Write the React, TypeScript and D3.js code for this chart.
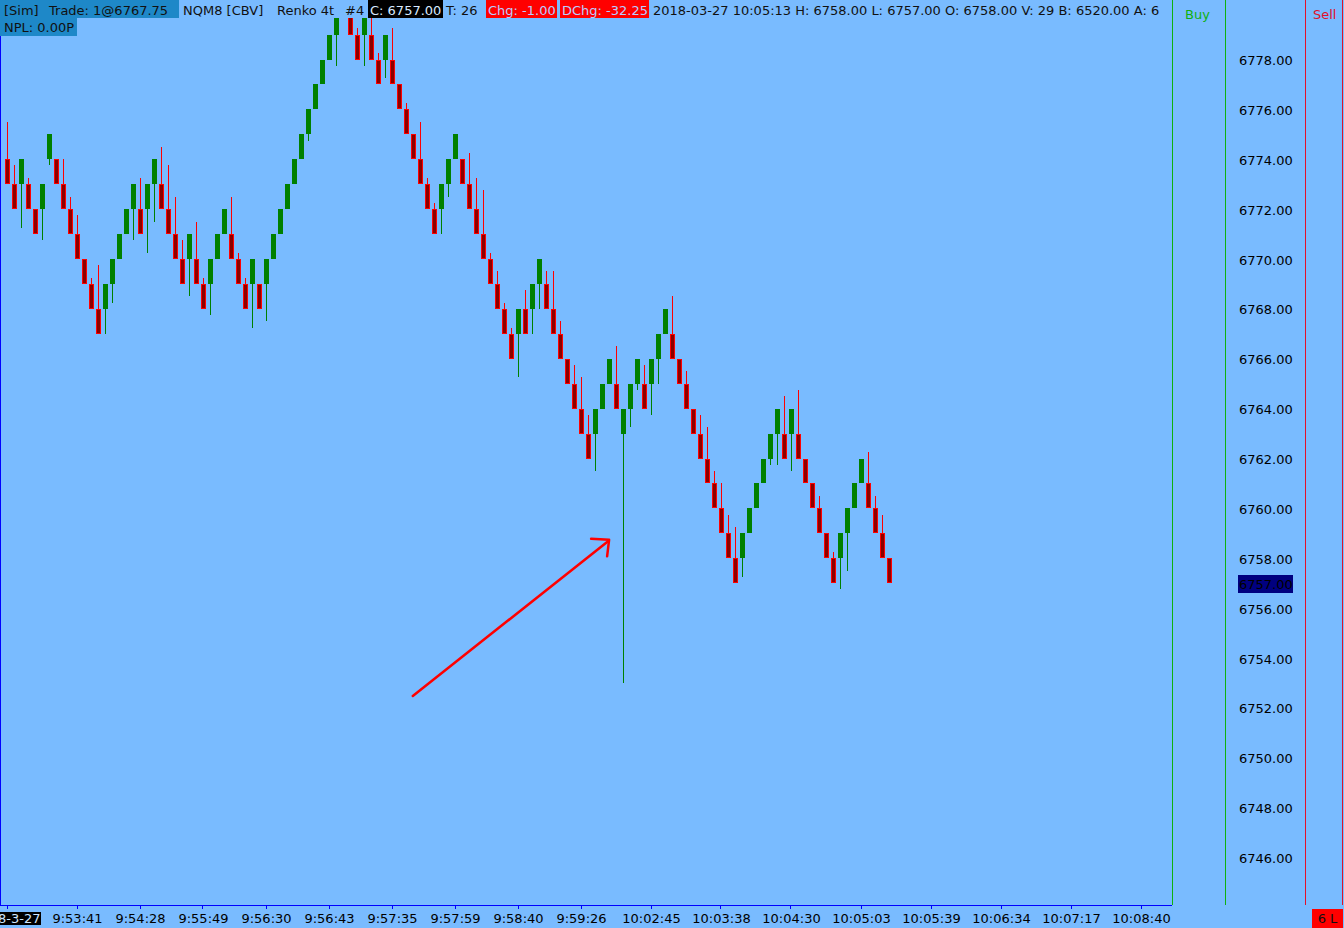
import React, { useEffect } from "react";
import * as d3 from "d3";

// Renko bricks (NQM8, 4 tick)
const opens = [
  6774, 6773, 6773, 6773, 6772, 6772, 6774, 6774, 6773, 6772,
  6771, 6770, 6769, 6768, 6768, 6769, 6770, 6771, 6772, 6772,
  6772, 6773, 6773, 6772, 6771, 6770, 6770, 6770, 6769, 6769,
  6770, 6771, 6771, 6770, 6769, 6769, 6769, 6769, 6770, 6771,
  6772, 6773, 6774, 6775, 6776, 6777, 6778, 6779, 6780, 6780,
  6779, 6779, 6779, 6778, 6778, 6778, 6777, 6776, 6775, 6774,
  6773, 6772, 6772, 6773, 6774, 6774, 6773, 6772, 6771, 6770,
  6769, 6768, 6767, 6767, 6768, 6768, 6769, 6769, 6768, 6767,
  6766, 6765, 6764, 6763, 6763, 6764, 6765, 6765, 6763, 6764,
  6765, 6765, 6765, 6766, 6767, 6767, 6766, 6765, 6764, 6763,
  6762, 6761, 6760, 6759, 6758, 6758, 6759, 6760, 6761, 6762,
  6763, 6763, 6763, 6763, 6762, 6761, 6760, 6759, 6758, 6758,
  6759, 6760, 6761, 6761, 6760, 6759, 6758,
];
const closes = [
  6773, 6772, 6774, 6772, 6771, 6773, 6775, 6773, 6772, 6771,
  6770, 6769, 6768, 6767, 6769, 6770, 6771, 6772, 6773, 6771,
  6773, 6774, 6772, 6771, 6770, 6769, 6771, 6769, 6768, 6770,
  6771, 6772, 6770, 6769, 6768, 6770, 6768, 6770, 6771, 6772,
  6773, 6774, 6775, 6776, 6777, 6778, 6779, 6780, 6781, 6779,
  6778, 6780, 6778, 6777, 6779, 6777, 6776, 6775, 6774, 6773,
  6772, 6771, 6773, 6774, 6775, 6773, 6772, 6771, 6770, 6769,
  6768, 6767, 6766, 6768, 6767, 6769, 6770, 6768, 6767, 6766,
  6765, 6764, 6763, 6762, 6764, 6765, 6766, 6764, 6764, 6765,
  6766, 6764, 6766, 6767, 6768, 6766, 6765, 6764, 6763, 6762,
  6761, 6760, 6759, 6758, 6757, 6759, 6760, 6761, 6762, 6763,
  6764, 6762, 6764, 6762, 6761, 6760, 6759, 6758, 6757, 6759,
  6760, 6761, 6762, 6760, 6759, 6758, 6757,
];
const highs = [
  6775.5, 6773.75, 6774, 6773.25, 6772, 6773, 6775, 6774, 6774, 6772.5,
  6771.75, 6770, 6769.25, 6769.75, 6769, 6770, 6771, 6772, 6773, 6773.25,
  6773, 6774, 6774.5, 6773.75, 6772.5, 6770.75, 6771, 6771.5, 6769.25, 6770,
  6771, 6772, 6772.5, 6770.25, 6769.25, 6770, 6769, 6770, 6771, 6772,
  6773, 6774, 6775, 6776, 6777, 6778, 6779, 6780, 6781, 6780,
  6779.25, 6780, 6780.5, 6778.25, 6779, 6779.25, 6777, 6776.25, 6775, 6775.5,
  6773.25, 6772.25, 6773, 6774, 6775, 6774, 6774.25, 6773.25, 6772.75, 6770.25,
  6769.5, 6768.25, 6767.25, 6768, 6768.75, 6769, 6770, 6769.5, 6769.5, 6767.5,
  6766, 6765.75, 6765.25, 6763.75, 6764, 6765, 6766, 6766.5, 6764, 6765,
  6766, 6765.75, 6766, 6767, 6768, 6768.5, 6766, 6765.5, 6764, 6763.75,
  6763.25, 6761.5, 6761, 6759.75, 6759.25, 6759, 6760, 6761, 6762, 6763,
  6764, 6764.5, 6764, 6764.75, 6762, 6761, 6760.5, 6759, 6758.25, 6759,
  6760, 6761, 6762, 6762.25, 6760.5, 6759.75, 6758,
];
const lows = [
  6773, 6772, 6771.25, 6772, 6771, 6770.75, 6773.75, 6773, 6772, 6771,
  6770, 6769, 6768, 6767, 6767, 6768.25, 6770, 6771, 6770.75, 6771,
  6770.25, 6771.5, 6772, 6771, 6770, 6769, 6768.5, 6769, 6768, 6767.75,
  6770, 6771, 6770, 6769, 6768, 6767.25, 6768, 6767.5, 6770, 6771,
  6772, 6773, 6774, 6774.75, 6776, 6777, 6778, 6777.75, 6780, 6779,
  6778, 6777.75, 6778, 6777, 6777.25, 6777, 6776, 6775, 6774, 6773,
  6772, 6771, 6771, 6772.5, 6774, 6773, 6772, 6771, 6770, 6769,
  6768, 6767, 6766, 6765.25, 6767, 6767, 6768, 6768, 6767, 6766,
  6765, 6764, 6763, 6762, 6761.5, 6764, 6765, 6764, 6753, 6763.25,
  6764.75, 6764, 6763.75, 6765, 6767, 6766, 6765, 6764, 6763, 6762,
  6761, 6760, 6759, 6758, 6757, 6757.25, 6759, 6760, 6761, 6761.75,
  6761.75, 6762, 6761.5, 6762, 6761, 6760, 6759, 6758, 6757, 6756.75,
  6757.5, 6760, 6761, 6760, 6759, 6758, 6757,
];

// axes
const priceTicks = [6746, 6748, 6750, 6752, 6754, 6756, 6758, 6760, 6762, 6764, 6766, 6768, 6770, 6772, 6774, 6776, 6778];
const timeTickIndex = [10, 19, 28, 37, 46, 55, 64, 73, 82, 92, 102, 112, 122, 132, 142, 152, 162];
const timeTickLabels = ["9:53:41", "9:54:28", "9:55:49", "9:56:30", "9:56:43", "9:57:35", "9:57:59", "9:58:40", "9:59:26", "10:02:45", "10:03:38", "10:04:30", "10:05:03", "10:05:39", "10:06:34", "10:07:17", "10:08:40"];
const dateLabel = "2018-3-27";
const lastPrice = 6757;

// hand-drawn arrow annotation (bar index, price)
const arrowFrom = [57.9, 6752.5];
const arrowTo = [85.8, 6758.7];

const BG = "#79BBFF";
const GREEN = "#008000";
const RED = "#FF0000";
const DARKRED = "#8B0000";

export default function App() {
  useEffect(() => {
    document.body.style.margin = "0";
  }, []);

  const x = d3.scaleLinear().domain([0, 166]).range([7.5, 7.5 + 7 * 166]);
  const y = d3.scaleLinear().domain([6746, 6778]).range([858, 60]);
  const py = (v: number) => Math.round(y(v) - 0.5);

  const bars = opens.map((o, i) => ({ i, o, c: closes[i], h: highs[i], l: lows[i] }));

  const ax1 = x(arrowFrom[0]), ay1 = y(arrowFrom[1]);
  const ax2 = x(arrowTo[0]), ay2 = y(arrowTo[1]);

  return (
    <svg
      width={1344}
      height={928}
      style={{ position: "absolute", left: 0, top: 0, display: "block" }}
      fontFamily="DejaVu Sans"
      fontSize={13}
    >
      <defs>
        <clipPath id="plotClip">
          <rect x={1} y={18} width={1171} height={887} />
        </clipPath>
        <clipPath id="hdrClip">
          <rect x={0} y={0} width={1172} height={40} />
        </clipPath>
        <clipPath id="botClip">
          <rect x={0} y={906} width={1172} height={22} />
        </clipPath>
      </defs>
      <rect x={0} y={0} width={1344} height={928} fill={BG} />

      {/* candles */}
      <g clipPath="url(#plotClip)">
        {bars.map((b) => {
          const cx = x(b.i);
          const up = b.c > b.o;
          return (
            <line
              key={"w" + b.i}
              x1={cx}
              x2={cx}
              y1={py(b.h)}
              y2={py(b.l)}
              stroke={up ? GREEN : RED}
              strokeWidth={1}
            />
          );
        })}
        {bars.map((b) => {
          const cx = x(b.i);
          const up = b.c > b.o;
          const top = py(Math.max(b.o, b.c));
          const bot = py(Math.min(b.o, b.c));
          return up ? (
            <rect key={"b" + b.i} x={cx - 2.5} y={top} width={5} height={bot - top} fill={GREEN} />
          ) : (
            <rect
              key={"b" + b.i}
              x={cx - 2}
              y={top + 0.5}
              width={4}
              height={bot - top - 1}
              fill={DARKRED}
              stroke={RED}
              strokeWidth={1}
            />
          );
        })}
        {/* arrow annotation */}
        <g stroke={RED} strokeWidth={2.5} fill="none" strokeLinecap="round" strokeLinejoin="round">
          <line x1={ax1} y1={ay1} x2={ax2} y2={ay2} />
          <polyline points={`${ax2 - 17},${ay2 - 2.5} ${ax2 + 1},${ay2 - 1.5} ${ax2 - 1},${ay2 + 15}`} />
        </g>
      </g>

      {/* frame lines */}
      <line x1={0.5} x2={0.5} y1={0} y2={906} stroke="#0000FF" strokeWidth={1} />
      <line x1={0} x2={1172} y1={905.5} y2={905.5} stroke="#0000FF" strokeWidth={1} />
      {[0, ...timeTickIndex].map((t) => (
        <line key={"t" + t} x1={Math.round(x(t)) - 0.5} x2={Math.round(x(t)) - 0.5} y1={906} y2={909} stroke="#0000FF" />
      ))}
      <line x1={1172.5} x2={1172.5} y1={0} y2={905} stroke="#10B010" />
      <line x1={1225.5} x2={1225.5} y1={0} y2={905} stroke="#10B010" />
      <line x1={1305.5} x2={1305.5} y1={0} y2={905} stroke="#E0102A" />
      <line x1={1342.5} x2={1342.5} y1={0} y2={905} stroke="#E0102A" />
      <text x={1185} y={19} fill="#10B010">Buy</text>
      <text x={1313} y={19} fill="#E0102A">Sell</text>

      {/* price axis */}
      <rect x={1238} y={Math.round(y(lastPrice)) - 9} width={55} height={18} fill="#000080" />
      {priceTicks.map((p) => (
        <text key={"p" + p} x={1239} y={y(p) + 5} fill="#000">
          {p.toFixed(2)}
        </text>
      ))}
      <text x={1239} y={y(lastPrice) + 5} fill="#000">
        {lastPrice.toFixed(2)}
      </text>

      {/* time axis */}
      <g clipPath="url(#botClip)">
        {timeTickIndex.map((t, k) => (
          <text key={"l" + t} x={x(t)} y={923} textAnchor="middle" fill="#000">
            {timeTickLabels[k]}
          </text>
        ))}
        <rect x={0} y={912} width={41} height={13} fill="#000" />
        <text x={40.5} y={923} textAnchor="end" fill="#CFE6FF">
          {dateLabel}
        </text>
      </g>
      <rect x={1312} y={909} width={31} height={19} fill="#FF0000" />
      <text x={1327.5} y={923} textAnchor="middle" fill="#111">6 L</text>

      {/* header */}
      <g clipPath="url(#hdrClip)">
        <rect x={0} y={0} width={179} height={18} fill="#1E88C8" />
        <text x={4} y={14.5} fill="#111">[Sim]</text>
        <text x={49} y={14.5} fill="#111">Trade: 1@6767.75</text>
        <text x={183} y={14.5} fill="#111">NQM8 [CBV]</text>
        <text x={277} y={14.5} fill="#111">Renko 4t</text>
        <text x={345} y={14.5} fill="#111">#4</text>
        <rect x={368} y={0} width={75} height={18} fill="#000" />
        <text x={370} y={14.5} fill="#D8EAFF">C: 6757.00</text>
        <text x={446} y={14.5} fill="#111">T: 26</text>
        <rect x={486} y={0} width={71} height={18} fill="#FF0000" />
        <text x={488} y={14.5} fill="#B8CCFF">Chg: -1.00</text>
        <rect x={560} y={0} width={89} height={18} fill="#FF0000" />
        <text x={562} y={14.5} fill="#B8CCFF">DChg: -32.25</text>
        <text x={653} y={14.5} fill="#111">
          2018-03-27 10:05:13 H: 6758.00 L: 6757.00 O: 6758.00 V: 29 B: 6520.00 A: 6
        </text>
        <rect x={0} y={18} width={77} height={18} fill="#1E88C8" />
        <text x={4} y={32} fill="#111">NPL: 0.00P</text>
      </g>
    </svg>
  );
}
